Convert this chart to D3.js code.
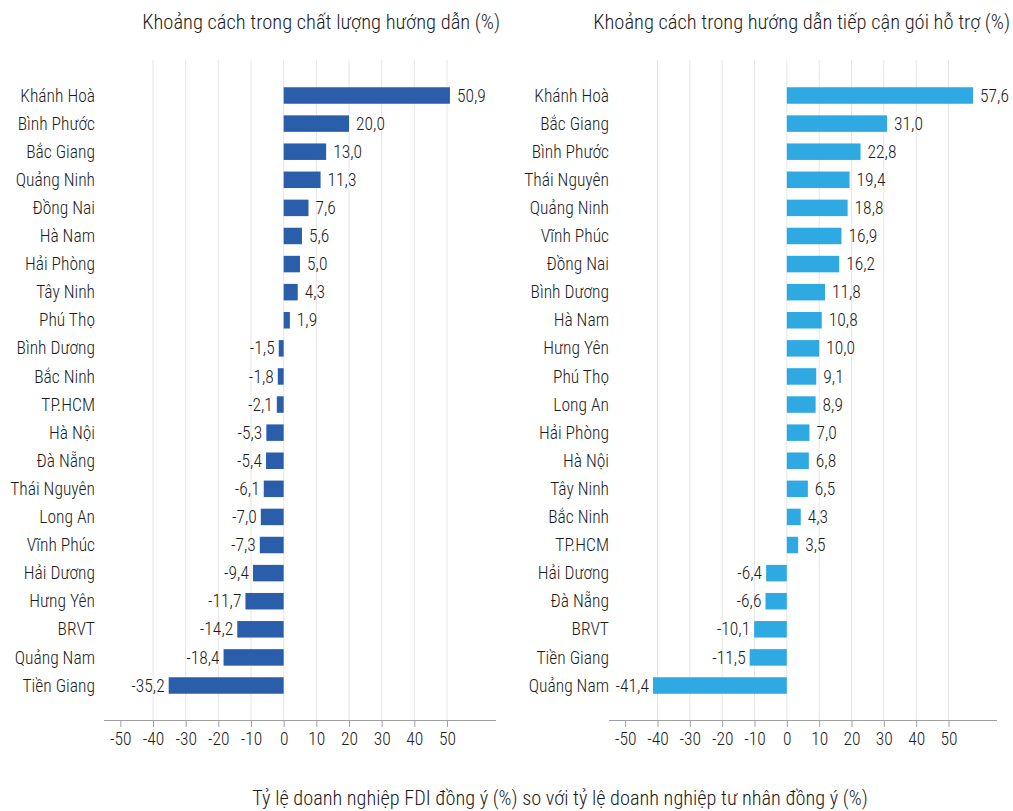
<!DOCTYPE html>
<html><head><meta charset="utf-8">
<script src="https://cdn.jsdelivr.net/npm/d3@7"></script>
<style>
body{margin:0;background:#fff;}
text{font-family:"Roboto Condensed","Liberation Sans Narrow","DejaVu Sans Condensed",Roboto,sans-serif;fill:#1c1c1c;font-weight:300;}
</style></head>
<body><svg id="c" width="1013" height="811"></svg>
<script>
const leftTitle = "Khoảng cách trong chất lượng hướng dẫn (%)";
const rightTitle = "Khoảng cách trong hướng dẫn tiếp cận gói hỗ trợ (%)";
const xTitle = "Tỷ lệ doanh nghiệp FDI đồng ý (%) so với tỷ lệ doanh nghiệp tư nhân đồng ý (%)";

const leftCategories = ["Khánh Hoà","Bình Phước","Bắc Giang","Quảng Ninh","Đồng Nai","Hà Nam","Hải Phòng","Tây Ninh","Phú Thọ","Bình Dương","Bắc Ninh","TP.HCM","Hà Nội","Đà Nẵng","Thái Nguyên","Long An","Vĩnh Phúc","Hải Dương","Hưng Yên","BRVT","Quảng Nam","Tiền Giang"];
const leftValues = [50.9,20.0,13.0,11.3,7.6,5.6,5.0,4.3,1.9,-1.5,-1.8,-2.1,-5.3,-5.4,-6.1,-7.0,-7.3,-9.4,-11.7,-14.2,-18.4,-35.2];

const rightCategories = ["Khánh Hoà","Bắc Giang","Bình Phước","Thái Nguyên","Quảng Ninh","Vĩnh Phúc","Đồng Nai","Bình Dương","Hà Nam","Hưng Yên","Phú Thọ","Long An","Hải Phòng","Hà Nội","Tây Ninh","Bắc Ninh","TP.HCM","Hải Dương","Đà Nẵng","BRVT","Tiền Giang","Quảng Nam"];
const rightValues = [57.6,31.0,22.8,19.4,18.8,16.9,16.2,11.8,10.8,10.0,9.1,8.9,7.0,6.8,6.5,4.3,3.5,-6.4,-6.6,-10.1,-11.5,-41.4];

const tickValues = [-50,-40,-30,-20,-10,0,10,20,30,40,50];
const gridValues = [-40,-30,-20,-10,0,10,20,30,40,50];
const xDomain = [-55,65];

const svg = d3.select("#c");
const fmt = v => d3.format(".1f")(v).replace(".", ",").replace("−","-");

function panel(opts){
  const g = svg.append("g");
  const x = d3.scaleLinear().domain(xDomain).range([opts.x0, opts.x1]);
  const y = d3.scalePoint().domain(opts.cats).range([95.5, 685.5]);
  const bh = 16.5;
  g.selectAll("line.grid").data(gridValues).join("line")
    .attr("x1", d=>x(d)).attr("x2", d=>x(d)).attr("y1", 60).attr("y2", 720)
    .attr("stroke", "#e6e6e6").attr("stroke-width", 1);
  const ax = g.append("g").attr("transform", "translate(0,720)")
    .call(d3.axisBottom(x).tickValues(tickValues).tickSize(7).tickPadding(6).tickFormat(d=>String(d)));
  ax.select(".domain").attr("stroke", "#a0a0a0").attr("d", `M${opts.x0},0.5H${opts.x1}`);
  ax.selectAll(".tick line").attr("stroke", "#a0a0a0");
  ax.selectAll(".tick text").attr("font-size", 17.5).attr("fill", "#1c1c1c");
  g.selectAll("rect.bar").data(opts.vals).join("rect")
    .attr("x", d=>x(Math.min(0,d))).attr("width", d=>Math.abs(x(d)-x(0)))
    .attr("y", (d,i)=>y(opts.cats[i]) - bh/2).attr("height", bh)
    .attr("fill", opts.color);
  g.selectAll("text.val").data(opts.vals).join("text")
    .attr("x", d=> d>=0 ? x(d)+7 : x(d)-4)
    .attr("y", (d,i)=>y(opts.cats[i]))
    .attr("dy", "0.35em")
    .attr("text-anchor", d=> d>=0 ? "start" : "end")
    .attr("font-size", 17.5)
    .text(d=>fmt(d));
  g.selectAll("text.cat").data(opts.cats).join("text")
    .attr("x", opts.labelX).attr("y", d=>y(d)).attr("dy","0.35em")
    .attr("text-anchor","end").attr("font-size", 17.5).text(d=>d);
  g.append("text").attr("x", opts.titleX).attr("y", 29).attr("text-anchor","end")
    .attr("font-size", 20.5).text(opts.title);
}

panel({x0:104, x1:496, cats:leftCategories, vals:leftValues, color:"#2a5eab", labelX:95, titleX:500, title:leftTitle});
panel({x0:609, x1:997, cats:rightCategories, vals:rightValues, color:"#2ea9e1", labelX:609, titleX:1010, title:rightTitle});

svg.append("text").attr("x", 560).attr("y", 805).attr("text-anchor","middle")
  .attr("font-size", 20.3).text(xTitle);
</script></body></html>
